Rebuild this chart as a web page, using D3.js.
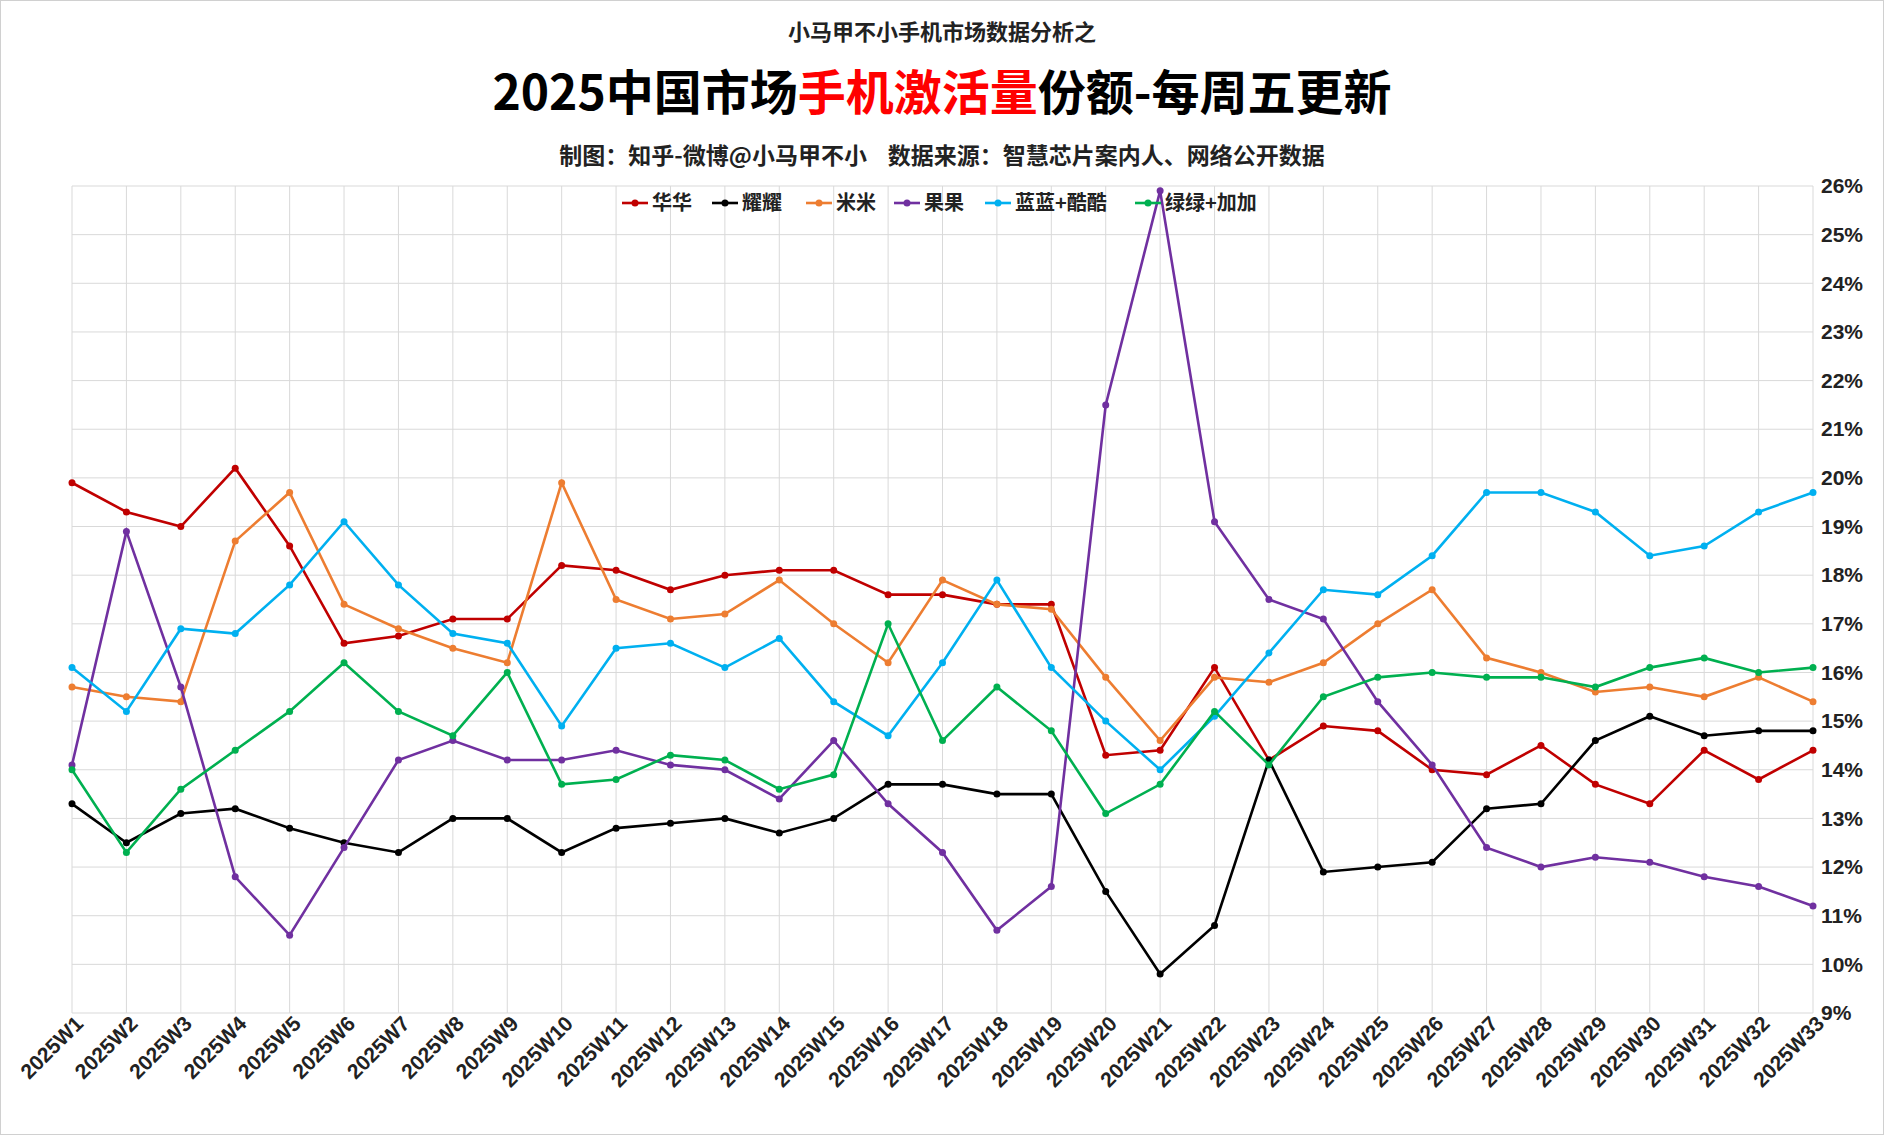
<!DOCTYPE html><html><head><meta charset="utf-8"><script src="https://cdn.jsdelivr.net/npm/d3@7"></script>
<style>body{margin:0;background:#fff;font-family:"Noto Sans CJK SC",sans-serif}</style></head><body><svg id="c" width="1884" height="1135"></svg><script>
const weeks = d3.range(1,34).map(i=>"2025W"+i);
const seriesNames = ["华华","耀耀","米米","果果","蓝蓝+酷酷","绿绿+加加"];
const colors = ["#c00000","#000000","#ed7d31","#7030a0","#00b0f0","#00b050"];
const huahua = [19.9,19.3,19.0,20.2,18.6,16.6,16.75,17.1,17.1,18.2,18.1,17.7,18.0,18.1,18.1,17.6,17.6,17.4,17.4,14.3,14.4,16.1,14.2,14.9,14.8,14.0,13.9,14.5,13.7,13.3,14.4,13.8,14.4];
const yaoyao = [13.3,12.5,13.1,13.2,12.8,12.5,12.3,13.0,13.0,12.3,12.8,12.9,13.0,12.7,13.0,13.7,13.7,13.5,13.5,11.5,9.8,10.8,14.2,11.9,12.0,12.1,13.2,13.3,14.6,15.1,14.7,14.8,14.8];
const mimi = [15.7,15.5,15.4,18.7,19.7,17.4,16.9,16.5,16.2,19.9,17.5,17.1,17.2,17.9,17.0,16.2,17.9,17.4,17.3,15.9,14.6,15.9,15.8,16.2,17.0,17.7,16.3,16.0,15.6,15.7,15.5,15.9,15.4];
const guoguo = [14.1,18.9,15.7,11.8,10.6,12.4,14.2,14.6,14.2,14.2,14.4,14.1,14.0,13.4,14.6,13.3,12.3,10.7,11.6,21.5,25.9,19.1,17.5,17.1,15.4,14.1,12.4,12.0,12.2,12.1,11.8,11.6,11.2];
const lanku = [16.1,15.2,16.9,16.8,17.8,19.1,17.8,16.8,16.6,14.9,16.5,16.6,16.1,16.7,15.4,14.7,16.2,17.9,16.1,15.0,14.0,15.1,16.4,17.7,17.6,18.4,19.7,19.7,19.3,18.4,18.6,19.3,19.7];
const lvjia = [14.0,12.3,13.6,14.4,15.2,16.2,15.2,14.7,16.0,13.7,13.8,14.3,14.2,13.6,13.9,17.0,14.6,15.7,14.8,13.1,13.7,15.2,14.1,15.5,15.9,16.0,15.9,15.9,15.7,16.1,16.3,16.0,16.1];
const yTicks = d3.range(9,27);
const data=[huahua,yaoyao,mimi,guoguo,lanku,lvjia];
const svg=d3.select("#c");
svg.append("rect").attr("x",0.5).attr("y",0.5).attr("width",1883).attr("height",1134).attr("fill","#fff").attr("stroke","#d0d0d0");
const L=72,R=1813,T=186,B=1013;
const x=d3.scalePoint().domain(weeks).range([L,R]);
const y=d3.scaleLinear().domain([9,26]).range([B,T]);
const g=svg.append("g");
g.selectAll(".hg").data(yTicks).join("line").attr("x1",L).attr("x2",R).attr("y1",d=>y(d)).attr("y2",d=>y(d)).attr("stroke","#d9d9d9");
g.selectAll(".vg").data(weeks).join("line").attr("x1",d=>x(d)).attr("x2",d=>x(d)).attr("y1",T).attr("y2",B).attr("stroke","#d9d9d9");
const ya=svg.append("g").attr("transform",`translate(${R},0)`).call(d3.axisRight(y).tickValues(yTicks).tickFormat(d=>d+"%").tickSize(0).tickPadding(8));
ya.select(".domain").remove();ya.selectAll("text").attr("font-size",21).attr("font-weight","bold").attr("fill","#222");
const xa=svg.append("g").attr("transform",`translate(0,${B})`).call(d3.axisBottom(x).tickSize(0));
xa.select(".domain").remove();
xa.selectAll("text").attr("font-size",21).attr("font-weight","bold").attr("fill","#222").attr("text-anchor","end").attr("transform","rotate(-45)").attr("dx","0").attr("dy","14");
const line=d3.line().x((d,i)=>x(weeks[i])).y(d=>y(d));
data.forEach((s,k)=>{
 svg.append("path").attr("d",line(s)).attr("fill","none").attr("stroke",colors[k]).attr("stroke-width",2.6);
 svg.append("g").selectAll("circle").data(s).join("circle").attr("cx",(d,i)=>x(weeks[i])).attr("cy",d=>y(d)).attr("r",3.5).attr("fill",colors[k]);
});
const lx=[622,712,806,894,985,1135];
seriesNames.forEach((n,k)=>{
 const lg=svg.append("g").attr("transform",`translate(${lx[k]},203)`);
 lg.append("line").attr("x1",0).attr("x2",26).attr("stroke",colors[k]).attr("stroke-width",2.6);
 lg.append("circle").attr("cx",13).attr("r",3.5).attr("fill",colors[k]);
 lg.append("text").attr("x",30).attr("y",7).attr("font-size",20).attr("font-weight","bold").attr("fill","#222").text(n);
});
svg.append("text").attr("x",942).attr("y",40).attr("text-anchor","middle").attr("font-size",22).attr("font-weight","bold").attr("fill","#222").text("小马甲不小手机市场数据分析之");
const t=svg.append("text").attr("x",942).attr("y",110).attr("text-anchor","middle").attr("font-size",48).attr("font-weight","bold").attr("fill","#000");
t.append("tspan").text("2025中国市场");
t.append("tspan").attr("fill","#ff0000").text("手机激活量");
t.append("tspan").text("份额-每周五更新");
svg.append("text").attr("x",942).attr("y",164).attr("text-anchor","middle").attr("font-size",23).attr("font-weight","bold").attr("fill","#222").attr("xml:space","preserve").style("white-space","pre").text("制图：知乎-微博@小马甲不小    数据来源：智慧芯片案内人、网络公开数据");
</script></body></html>
